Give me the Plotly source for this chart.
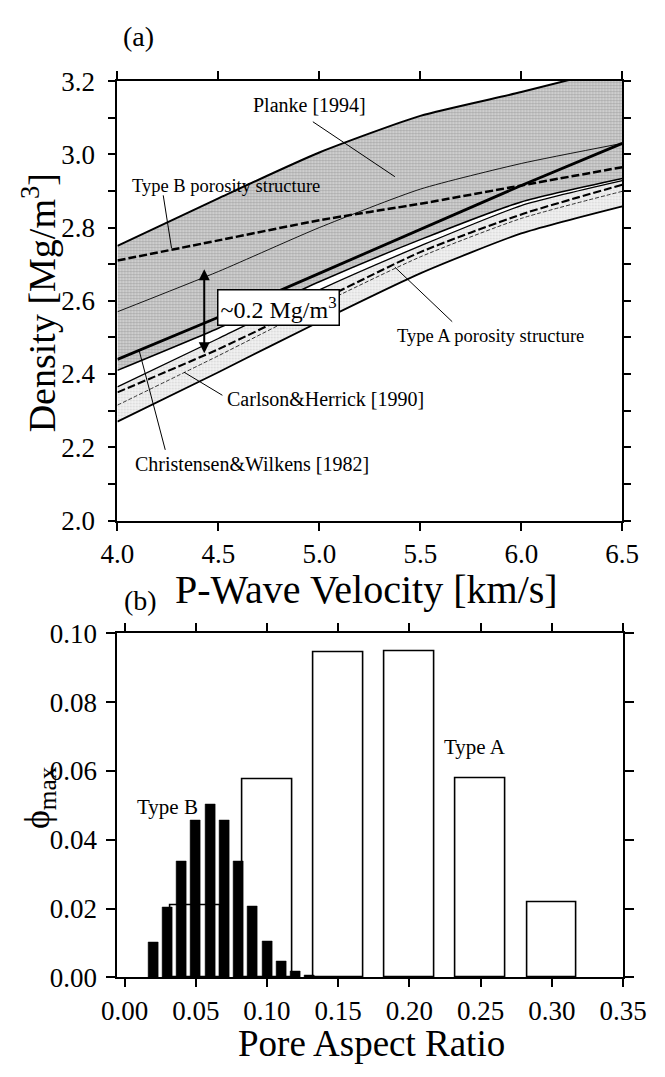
import plotly.graph_objects as go

FONT = "Liberation Serif"

# ---------------- (a) Density vs P-wave velocity ----------------
vp = [4.0, 4.5, 5.0, 5.5, 6.0, 6.5]
planke_upper = [2.75, 2.88, 3.005, 3.105, 3.17, 3.24]
planke_lower = [2.41, 2.525, 2.652, 2.767, 2.87, 2.934]
planke_mean = [2.57, 2.68, 2.80, 2.905, 2.975, 3.03]
christensen_wilkens = [2.44, 2.555, 2.675, 2.795, 2.915, 3.03]
type_b_curve = [2.71, 2.765, 2.82, 2.865, 2.915, 2.965]
carlson_upper = [2.365, 2.497, 2.63, 2.75, 2.86, 2.928]
type_a_curve = [2.35, 2.468, 2.60, 2.733, 2.836, 2.917]
carlson_mean = [2.315, 2.45, 2.589, 2.72, 2.825, 2.899]
carlson_lower = [2.27, 2.405, 2.543, 2.675, 2.784, 2.858]

# ---------------- (b) Porosity spectra ----------------
aspect_a = [0.05, 0.10, 0.15, 0.20, 0.25, 0.30]
phi_a = [0.021, 0.0575, 0.0946, 0.0948, 0.0579, 0.0219]
aspect_b = [0.02, 0.03, 0.04, 0.05, 0.06, 0.07, 0.08, 0.09, 0.10, 0.11, 0.12, 0.13]
phi_b = [0.0102, 0.0205, 0.0337, 0.0457, 0.0504, 0.0457, 0.0338, 0.0206,
         0.0104, 0.0046, 0.0017, 0.0006]

# label text, text position, pointer start, pointer end, font size (panel a)
labels_a = [
    ("Planke [1994]", 4.95, 3.135, (4.968, 3.089), (5.374, 2.939), 20),
    ("Type B porosity structure", 4.54, 2.914, (4.227, 2.888), (4.268, 2.744), 18.5),
    ("Type A porosity structure", 5.85, 2.503, (5.658, 2.543), (5.374, 2.692), 18.5),
    ("Carlson&amp;Herrick [1990]", 5.03, 2.331, (4.52, 2.342), (4.33, 2.405), 20),
    ("Christensen&amp;Wilkens [1982]", 4.665, 2.153, (4.237, 2.193), (4.106, 2.468), 20),
]

W, H = 665, 1077
ax_a_x = [107 / W, 645 / W]
ax_a_y = [1 - 520 / H, 1 - 68 / H]
ax_b_x = [107 / W, 646 / W]
ax_b_y = [1 - 990 / H, 1 - 636 / H]

DARK_FILL = dict(shape=".", fgcolor="#7a7a7a", bgcolor="#dcdcdc", size=3, solidity=0.55)
LIGHT_FILL = dict(shape=".", fgcolor="#b5b5b5", bgcolor="#f3f3f3", size=3, solidity=0.3)

fig = go.Figure()

def line(x, y, width=1.2, dash="solid", fill=None, fillpattern=None, color="black", shape="spline"):
    fig.add_trace(go.Scatter(
        x=x, y=y, mode="lines", xaxis="x", yaxis="y",
        line=dict(color=color, width=width, dash=dash, shape=shape, smoothing=0.6),
        fill=fill, fillcolor="rgba(0,0,0,0)" if fill else None, fillpattern=fillpattern,
        showlegend=False, hoverinfo="skip"))

# shaded bands
line(vp, carlson_lower, width=1.8)
line(vp, carlson_upper, width=1.3, fill="tonexty", fillpattern=LIGHT_FILL)
line(vp, planke_lower, width=1.5)
line(vp, planke_upper, width=2.0, fill="tonexty", fillpattern=DARK_FILL)

# curves
line(vp, planke_mean, width=0.9)
line(vp, christensen_wilkens, width=2.8, shape="linear")
line(vp, type_b_curve, width=2.5, dash="8px,3px")
line(vp, type_a_curve, width=2.1, dash="8px,3px")
line(vp, carlson_mean, width=1.0, dash="4px,2px", color="#333333")

# bars
fig.add_trace(go.Bar(x=aspect_a, y=phi_a, width=0.035, xaxis="x2", yaxis="y2",
                     marker=dict(color="white", line=dict(color="black", width=1.6)),
                     showlegend=False, hoverinfo="skip"))
fig.add_trace(go.Bar(x=aspect_b, y=phi_b, width=0.007, xaxis="x2", yaxis="y2",
                     marker=dict(color="black", line=dict(color="black", width=0.5)),
                     showlegend=False, hoverinfo="skip"))

annotations = []
shapes = []
for text, tx, ty, p0, p1, fs in labels_a:
    annotations.append(dict(x=tx, y=ty, xref="x", yref="y", text=text, showarrow=False,
                            xanchor="center", yanchor="middle",
                            font=dict(family=FONT, size=fs, color="black")))
    shapes.append(dict(type="line", xref="x", yref="y", x0=p0[0], y0=p0[1], x1=p1[0], y1=p1[1],
                       line=dict(color="black", width=1)))

# double arrow for the density offset
annotations.append(dict(x=4.43, y=2.457, ax=4.43, ay=2.69, xref="x", yref="y", axref="x", ayref="y",
                        text="", showarrow=True, arrowhead=2, arrowside="end+start",
                        arrowsize=1.1, arrowwidth=2, arrowcolor="black"))
annotations.append(dict(x=4.80, y=2.581, xref="x", yref="y", text="~0.2 Mg/m<sup>3</sup>",
                        showarrow=False, bgcolor="white", bordercolor="black", borderwidth=1.5,
                        borderpad=2, xanchor="center", yanchor="middle",
                        font=dict(family=FONT, size=24, color="black")))

# panel b labels
annotations.append(dict(x=0.246, y=0.0671, xref="x2", yref="y2", text="Type A", showarrow=False,
                        xanchor="center", yanchor="middle",
                        font=dict(family=FONT, size=21, color="black")))
annotations.append(dict(x=0.0305, y=0.0496, xref="x2", yref="y2", text="Type B", showarrow=False,
                        xanchor="center", yanchor="middle",
                        font=dict(family=FONT, size=21, color="black")))

# panel tags and axis titles
def paper_text(text, px, py, size, angle=0):
    annotations.append(dict(x=px / W, y=1 - py / H, xref="paper", yref="paper", text=text,
                            showarrow=False, textangle=angle, xanchor="center", yanchor="middle",
                            font=dict(family=FONT, size=size, color="black")))

paper_text("(a)", 130, 22, 28)
paper_text("(b)", 132, 602, 28)
paper_text("P-Wave Velocity [km/s]", 372, 591, 40)
paper_text("Density [Mg/m<sup>3</sup>]", 23, 296, 38, angle=-90)
paper_text("Pore Aspect Ratio", 378, 1058, 37)
paper_text("ϕ<sub>max</sub>", 24, 805, 36, angle=-90)

axis_common = dict(showline=True, linecolor="black", linewidth=2, mirror="ticks",
                   ticks="outside", tickcolor="black", tickwidth=1.5, showgrid=False,
                   zeroline=False, tickfont=dict(family=FONT, size=27, color="black"))

fig.update_layout(
    width=W, height=H, margin=dict(l=0, r=0, t=0, b=0),
    paper_bgcolor="white", plot_bgcolor="white", barmode="overlay", bargap=0,
    showlegend=False,
    xaxis=dict(domain=ax_a_x, anchor="y", range=[4.0, 6.5], tickvals=[4.0, 4.5, 5.0, 5.5, 6.0, 6.5],
               tickformat=".1f", ticklen=8, ticklabelstandoff=0, **axis_common),
    yaxis=dict(domain=ax_a_y, anchor="x", range=[2.0, 3.2], tickvals=[2.0, 2.2, 2.4, 2.6, 2.8, 3.0, 3.2],
               tickformat=".1f", ticklen=7, ticklabelstandoff=8,
               minor=dict(dtick=0.1, tick0=2.0, ticks="outside", ticklen=7, tickcolor="black", tickwidth=1.5),
               **axis_common),
    xaxis2=dict(domain=ax_b_x, anchor="y2", range=[-0.005, 0.35],
                tickvals=[0.0, 0.05, 0.10, 0.15, 0.20, 0.25, 0.30, 0.35],
                tickformat=".2f", ticklen=8, ticklabelstandoff=0, **axis_common),
    yaxis2=dict(domain=ax_b_y, anchor="x2", range=[0.0, 0.10],
                tickvals=[0.0, 0.02, 0.04, 0.06, 0.08, 0.10],
                tickformat=".2f", ticklen=9, ticklabelstandoff=4, **axis_common),
    annotations=annotations, shapes=shapes,
)

fig.write_html("out.html")
